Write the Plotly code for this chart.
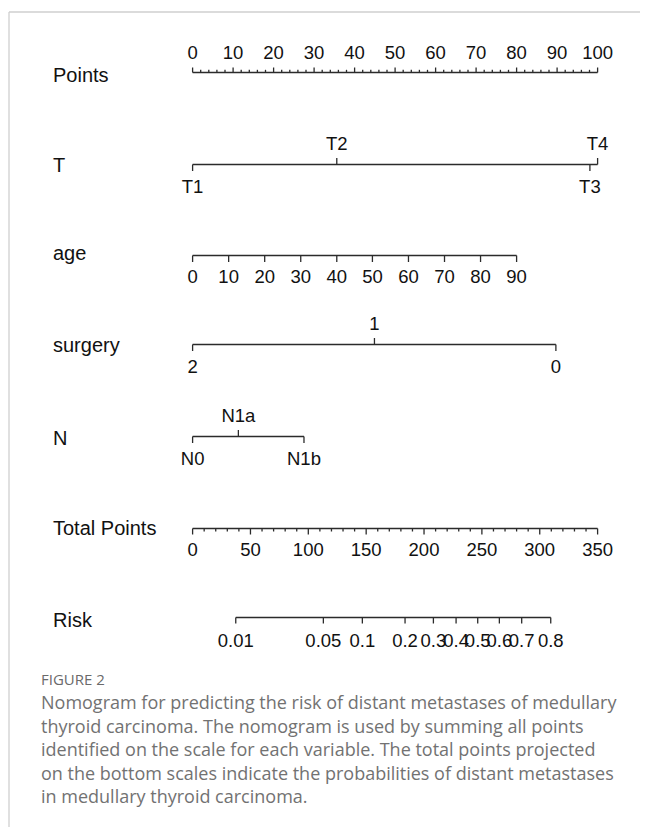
import plotly.graph_objects as go

W, H = 648, 827
OFF = 8  # page body margin of the html page

# ---------------- data ----------------
row_names = ["Points", "T", "age", "surgery", "N", "Total Points", "Risk"]

points_major = [0, 10, 20, 30, 40, 50, 60, 70, 80, 90, 100]
points_minor = [2, 4, 6, 8, 12, 14, 16, 18, 22, 24, 26, 28, 32, 34, 36, 38,
                42, 44, 46, 48, 52, 54, 56, 58, 62, 64, 66, 68, 72, 74, 76, 78,
                82, 84, 86, 88, 92, 94, 96, 98]

T_labels = ["T1", "T2", "T3", "T4"]
T_points = [0, 35.6, 98.1, 100]
T_side = ["below", "above", "below", "above"]

age_labels = ["0", "10", "20", "30", "40", "50", "60", "70", "80", "90"]
age_points = [0, 8.9, 17.8, 26.7, 35.6, 44.4, 53.3, 62.2, 71.1, 80.0]

surgery_labels = ["2", "1", "0"]
surgery_points = [0, 44.9, 89.7]
surgery_side = ["below", "above", "below"]

N_labels = ["N0", "N1a", "N1b"]
N_points = [0, 11.3, 27.5]
N_side = ["below", "above", "below"]

total_major = [0, 50, 100, 150, 200, 250, 300, 350]
total_minor = [10, 20, 30, 40, 60, 70, 80, 90, 110, 120, 130, 140, 160, 170, 180, 190,
               210, 220, 230, 240, 260, 270, 280, 290, 310, 320, 330, 340]

risk_labels = ["0.01", "0.05", "0.1", "0.2", "0.3", "0.4", "0.5", "0.6", "0.7", "0.8"]
risk_total = [37.3, 113.0, 146.7, 183.6, 208.1, 227.7, 246.4, 265.1, 284.4, 309.5]

caption_title = "FIGURE 2"
caption_lines = [
    "Nomogram for predicting the risk of distant metastases of medullary",
    "thyroid carcinoma. The nomogram is used by summing all points",
    "identified on the scale for each variable. The total points projected",
    "on the bottom scales indicate the probabilities of distant metastases",
    "in medullary thyroid carcinoma.",
]

# ---------------- layout constants (page pixels) ----------------
X0 = 192.6          # page pixel of 0 points
PX_PER_PT = 4.05
PX_PER_TP = 405 / 350
row_y = {"Points": 72.5, "T": 164.5, "age": 255.5, "surgery": 344.5,
         "N": 436.5, "Total Points": 528.5, "Risk": 617.5}
label_y = {"Points": 75, "T": 165, "age": 253, "surgery": 345,
           "N": 438, "Total Points": 528, "Risk": 620}

LINE_COLOR = "#2b2b2b"
TXT_COLOR = "#111111"
FONT = "Liberation Sans, Arial, sans-serif"
TICK_FS = 18.5
LAB_FS = 20
ABOVE = 19
BELOW = 23.5


def px(page_x):
    return (page_x - OFF) / W


fig = go.Figure()


def seg_trace(xs, y0, y1, axis):
    X, Y = [], []
    for x in xs:
        X += [x, x, None]
        Y += [y0, y1, None]
    fig.add_trace(go.Scatter(x=X, y=Y, mode="lines", xaxis=axis, yaxis="y",
                             line=dict(color=LINE_COLOR, width=1.3),
                             hoverinfo="skip", showlegend=False))


def hline(xmin, xmax, y, axis):
    fig.add_trace(go.Scatter(x=[xmin, xmax], y=[y, y], mode="lines", xaxis=axis, yaxis="y",
                             line=dict(color=LINE_COLOR, width=1.3),
                             hoverinfo="skip", showlegend=False))


def texts(xs, ys, labels, axis):
    fig.add_trace(go.Scatter(x=xs, y=ys, text=labels, mode="text", xaxis=axis, yaxis="y",
                             textposition="middle center",
                             textfont=dict(family=FONT, size=TICK_FS, color=TXT_COLOR),
                             hoverinfo="skip", showlegend=False))


# Points row (ticks up, labels above)
y = row_y["Points"]
hline(min(points_major), max(points_major), y, "x")
seg_trace(points_major, y, y - 5, "x")
seg_trace(points_minor, y, y - 2.7, "x")
texts(points_major, [y - 18.5] * len(points_major), [str(v) for v in points_major], "x")


def cat_row(name, pts, labels, sides):
    y = row_y[name]
    hline(min(pts), max(pts), y, "x")
    up = [p for p, s in zip(pts, sides) if s == "above"]
    dn = [p for p, s in zip(pts, sides) if s == "below"]
    seg_trace(up, y, y - 6.5, "x")
    seg_trace(dn, y, y + 6.5, "x")
    ys = [y - ABOVE if s == "above" else y + BELOW for s in sides]
    texts(pts, ys, labels, "x")


cat_row("T", T_points, T_labels, T_side)

# age row (ticks down, labels below)
y = row_y["age"]
hline(min(age_points), max(age_points), y, "x")
seg_trace(age_points, y, y + 6.5, "x")
texts(age_points, [y + 22.5] * len(age_points), age_labels, "x")

cat_row("surgery", surgery_points, surgery_labels, surgery_side)
cat_row("N", N_points, N_labels, N_side)

# Total points row (second axis)
y = row_y["Total Points"]
hline(min(total_major), max(total_major), y, "x2")
seg_trace(total_major, y, y + 6, "x2")
seg_trace(total_minor, y, y + 3, "x2")
texts(total_major, [y + 22.5] * len(total_major), [str(v) for v in total_major], "x2")

# Risk row
y = row_y["Risk"]
hline(min(risk_total), max(risk_total), y, "x2")
seg_trace(risk_total, y, y + 6, "x2")
texts(risk_total, [y + 24.5] * len(risk_total), risk_labels, "x2")

# Row labels
annotations = []
for name in row_names:
    annotations.append(dict(x=px(51), y=label_y[name], xref="paper", yref="y",
                            text=name, showarrow=False, xanchor="left", yanchor="middle",
                            font=dict(family=FONT, size=LAB_FS, color=TXT_COLOR)))

# Caption
annotations.append(dict(x=px(39), y=679, xref="paper", yref="y", text=caption_title,
                        showarrow=False, xanchor="left", yanchor="middle",
                        font=dict(family="Open Sans, sans-serif", size=15, color="#6a6a6a")))
cap_y = [702, 725.5, 749, 772.5, 796]
for line, cy in zip(caption_lines, cap_y):
    annotations.append(dict(x=px(39), y=cy, xref="paper", yref="y", text=line,
                            showarrow=False, xanchor="left", yanchor="middle",
                            font=dict(family="Open Sans, sans-serif", size=18, color="#727272")))

shapes = [
    dict(type="line", xref="paper", yref="y", x0=px(9), x1=1.0, y0=12, y1=12,
         line=dict(color="#cfcfcf", width=1.3)),
    dict(type="line", xref="paper", yref="y", x0=px(9), x1=px(9), y0=12, y1=H + OFF,
         line=dict(color="#cfcfcf", width=1.3)),
]

# axis ranges chosen so that data coordinates land on page pixels (figure starts at page px OFF)
fig.update_layout(
    width=W, height=H,
    margin=dict(l=0, r=0, t=0, b=0),
    paper_bgcolor="white", plot_bgcolor="white",
    xaxis=dict(range=[-(X0 - OFF) / PX_PER_PT, (W + OFF - X0) / PX_PER_PT],
               visible=False, fixedrange=True),
    xaxis2=dict(range=[-(X0 - OFF) / PX_PER_TP, (W + OFF - X0) / PX_PER_TP], overlaying="x",
                visible=False, fixedrange=True),
    yaxis=dict(range=[H + OFF, OFF], visible=False, fixedrange=True),
    annotations=annotations,
    shapes=shapes,
    showlegend=False,
)

fig.write_html("out.html")
